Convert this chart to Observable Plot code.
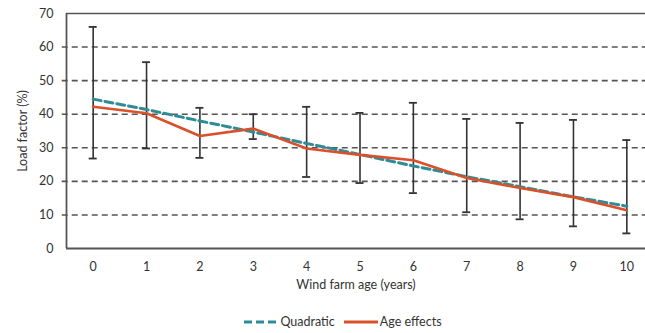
<!DOCTYPE html>
<html>
<head>
<meta charset="utf-8">
<script src="https://cdn.jsdelivr.net/npm/d3@7"></script>
<script src="https://cdn.jsdelivr.net/npm/@observablehq/plot@0.6"></script>
<style>
  html, body { margin: 0; padding: 0; background: #fff; }
  body { width: 645px; height: 333px; overflow: hidden; font-family: "Lato", "Open Sans", sans-serif; color: #333; }
  #legend { position: absolute; left: 0; top: 314px; width: 645px; display: flex; justify-content: center; align-items: center; gap: 8px; font-size: 12.5px; color: #333; padding-left: 40px; box-sizing: border-box; }
  #legend .item { display: flex; align-items: center; gap: 1px; }
</style>
</head>
<body>
<div id="chart"></div>
<div id="legend"></div>
<script>
const ages = [0, 1, 2, 3, 4, 5, 6, 7, 8, 9, 10];
const ageEffects = [42.2, 40.3, 33.5, 35.7, 29.8, 27.9, 26.3, 21.0, 18.0, 15.3, 11.4];
const quadratic = [44.5, 41.4, 38.0, 34.7, 31.3, 28.0, 24.6, 21.4, 18.4, 15.4, 12.6];
const errHigh = [66.0, 55.5, 41.9, 40.0, 42.2, 40.4, 43.4, 38.6, 37.4, 38.3, 32.3];
const errLow = [26.8, 29.8, 27.0, 32.6, 21.3, 19.5, 16.5, 10.8, 8.7, 6.6, 4.5];
const yTicks = [0, 10, 20, 30, 40, 50, 60, 70];
const gridValues = [10, 20, 30, 40, 50, 60];
const seriesNames = ["Quadratic", "Age effects"];
const seriesColors = ["#2f8c96", "#d9502a"];
const capHalf = 0.075;

const rows = ages.map((a, i) => ({age: a, eff: ageEffects[i], quad: quadratic[i], hi: errHigh[i], lo: errLow[i]}));

const chart = Plot.plot({
  width: 645,
  height: 305,
  marginTop: 13,
  marginLeft: 66,
  marginRight: 0,
  marginBottom: 57,
  style: {fontFamily: "Lato, 'Open Sans', sans-serif", fontSize: "12px", color: "#333", background: "#fff"},
  x: {type: "linear", domain: [-0.5, 10.35], axis: null},
  y: {domain: [0, 70], axis: null},
  marks: [
    Plot.ruleY(gridValues, {x1: -0.58, x2: 10.35, stroke: "#555", strokeWidth: 1.6, strokeDasharray: "6,4"}),
    Plot.ruleY([70], {stroke: "#555", strokeWidth: 1.6}),
    Plot.ruleY([0], {stroke: "#555", strokeWidth: 1.8}),
    Plot.ruleX([-0.5], {stroke: "#555", strokeWidth: 1.8}),
    Plot.axisY({ticks: yTicks, tickSize: 0, tickPadding: 13, fontSize: 12.5, label: "Load factor (%)", labelAnchor: "center", labelArrow: "none", labelOffset: 48}),
    Plot.axisX({ticks: ages, tickSize: 0, tickPadding: 14, fontSize: 12.5, label: "Wind farm age (years)", labelAnchor: "center", labelArrow: "none", labelOffset: 40}),
    Plot.ruleX(rows, {x: "age", y1: "lo", y2: "hi", stroke: "#333", strokeWidth: 1.6}),
    Plot.ruleY(rows, {y: "hi", x1: d => d.age - capHalf, x2: d => d.age + capHalf, stroke: "#333", strokeWidth: 1.8}),
    Plot.ruleY(rows, {y: "lo", x1: d => d.age - capHalf, x2: d => d.age + capHalf, stroke: "#333", strokeWidth: 1.8}),
    Plot.line(rows, {x: "age", y: "quad", stroke: seriesColors[0], strokeWidth: 3, strokeDasharray: "8,4"}),
    Plot.line(rows, {x: "age", y: "eff", stroke: seriesColors[1], strokeWidth: 2.6})
  ]
});

document.getElementById("chart").append(chart);

const legend = document.getElementById("legend");
seriesNames.forEach((name, i) => {
  const item = document.createElement("div");
  item.className = "item";
  const dash = i === 0 ? 'stroke-dasharray="8,4"' : "";
  item.innerHTML = `<svg width="36" height="8"><line x1="1" y1="4" x2="35" y2="4" stroke="${seriesColors[i]}" stroke-width="3" ${dash}/></svg><span>${name}</span>`;
  legend.append(item);
});
</script>
</body>
</html>
